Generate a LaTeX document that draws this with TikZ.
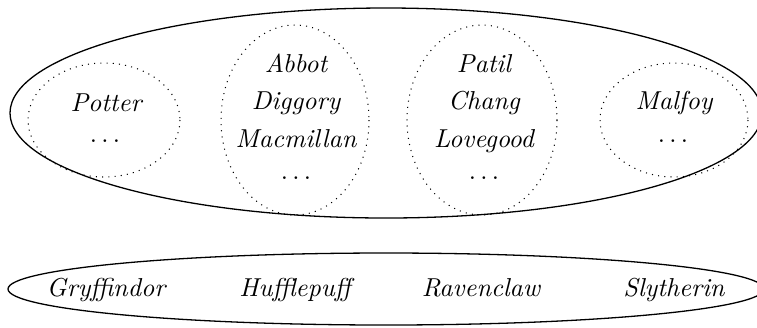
\documentclass[tikz,border=0pt]{standalone}
\newcommand\mydots{\textup{.\kern1.67pt.\kern1.67pt.}}
\begin{document}
\begin{tikzpicture}[x=0.013554cm,y=-0.013554cm,
  lbl/.style={font=\itshape, inner sep=0pt, anchor=base},
  dts/.style={inner sep=0pt, anchor=base},
  grp/.style={draw, dotted},
  outer/.style={draw, line width=0.5pt}]
\useasboundingbox (0,0) rectangle (757,327);
\clip (0,0) rectangle (757,327);
% outer ellipses
\draw[outer] (386,113) ellipse [x radius=376, y radius=105];
\draw[outer] (386,289) ellipse [x radius=378, y radius=36];
% dotted groups
\draw[grp] (104,120) ellipse [x radius=76, y radius=57];
\draw[grp] (295,120) ellipse [x radius=74, y radius=95];
\draw[grp] (482,120) ellipse [x radius=75, y radius=95];
\draw[grp] (674,120) ellipse [x radius=74, y radius=57];
% texts
\node[lbl] (potter) at (106,111) {Potter};
\node[dts] (pd) at (105,142) {\mydots};
\node[lbl] (abbot) at (296,72) {Abbot};
\node[lbl] (diggory) at (296,109) {Diggory};
\node[lbl] (macmillan) at (296,147) {Macmillan};
\node[dts] (ad) at (296,179) {\mydots};
\node[lbl] (patil) at (484,72) {Patil};
\node[lbl] (chang) at (484,109) {Chang};
\node[lbl] (lovegood) at (484,147) {Lovegood};
\node[dts] (cd) at (484,179) {\mydots};
\node[lbl] (malfoy) at (674,109) {Malfoy};
\node[dts] (md) at (673,142) {\mydots};
\node[lbl] (gryf) at (106,296) {Gryffindor};
\node[lbl] (huff) at (295,296) {Hufflepuff};
\node[lbl] (raven) at (481,296) {Ravenclaw};
\node[lbl] (slyth) at (674,296) {Slytherin};
\end{tikzpicture}
\end{document}
